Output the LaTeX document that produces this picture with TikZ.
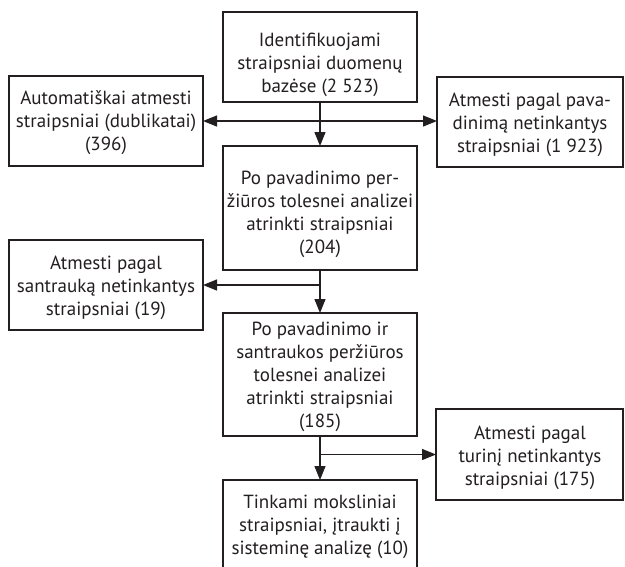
\documentclass[tikz,border=0pt]{standalone}
\usepackage{fontspec}
\setmainfont{PT Sans}
\usetikzlibrary{arrows.meta}
\definecolor{ink}{HTML}{231F20}
\tikzset{
  boxnode/.style={draw=ink, line width=1.2pt, inner sep=0pt, outer sep=0pt, rectangle},
  txt/.style={align=center, inner sep=0pt, text=ink, font=\fontsize{19}{23}\selectfont},
  conn/.style={draw=ink, line width=1.2pt},
  arr/.style={conn, -{Triangle[length=14pt,width=11pt]}}
}
\begin{document}
\begin{tikzpicture}[x=1pt,y=-1pt]
\useasboundingbox (0,0) rectangle (625,566);
\clip (0,0) rectangle (625,566);
\fill[white] (0,0) rectangle (625,566);
% boxes
\node[boxnode, minimum width=194pt, minimum height=90pt] (A) at (320,57) {};
\node[boxnode, minimum width=194pt, minimum height=90pt] (B) at (106,121) {};
\node[boxnode, minimum width=186pt, minimum height=90pt] (C) at (530,122) {};
\node[boxnode, minimum width=194pt, minimum height=124pt] (D) at (320,208) {};
\node[boxnode, minimum width=194pt, minimum height=90pt] (E) at (106,285) {};
\node[boxnode, minimum width=194pt, minimum height=123pt] (F) at (320,374.5) {};
\node[boxnode, minimum width=187pt, minimum height=91pt] (G) at (529.5,454.5) {};
\node[boxnode, minimum width=194pt, minimum height=94pt] (H) at (320,527) {};
% texts
\node[txt] (tA) at (320,65) {Identifikuojami\\straipsniai duomenų\\bazėse (2 523)};
\node[txt] (tB) at (106,123) {Automatiškai atmesti\\straipsniai (dublikatai)\\(396)};
\node[txt] (tC) at (530,125) {Atmesti pagal pava-\\dinimą netinkantys\\straipsniai (1 923)};
\node[txt] (tD) at (320,214) {Po pavadinimo per-\\žiūros tolesnei analizei\\atrinkti straipsniai\\(204)};
\node[txt] (tE) at (106,288) {Atmesti pagal\\santrauką netinkantys\\straipsniai (19)};
\node[txt] (tF) at (320,377) {Po pavadinimo ir\\santraukos peržiūros\\tolesnei analizei\\atrinkti straipsniai\\(185)};
\node[txt] (tG) at (530,458) {Atmesti pagal\\turinį netinkantys\\straipsniai (175)};
\node[txt] (tH) at (320,527) {Tinkami moksliniai\\straipsniai, įtraukti į\\sisteminę analizę (10)};
% connectors
\coordinate (j1) at (A.south |- B.east);
\coordinate (j2) at (D.south |- E.east);
\coordinate (j3) at (F.south |- G.west);
\draw[arr] (A.south) -- (D.north);
\draw[arr] (j1) -- (B.east);
\draw[arr] (j1) -- (j1 -| C.west);
\draw[arr] (D.south) -- (F.north);
\draw[arr] (j2) -- (E.east);
\draw[arr] (F.south) -- (H.north);
\draw[arr] (j3) -- (G.west);
\end{tikzpicture}
\end{document}
